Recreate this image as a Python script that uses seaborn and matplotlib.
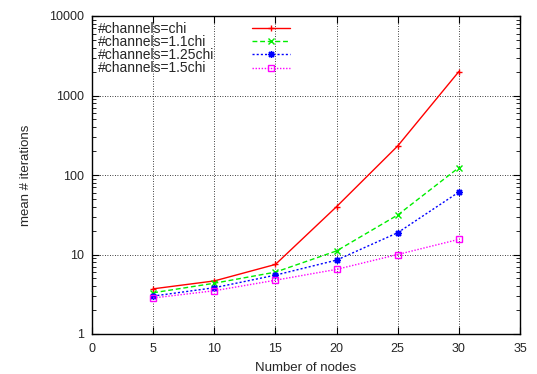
import matplotlib
matplotlib.use("Agg")
import matplotlib.pyplot as plt
import seaborn as sns
import pandas as pd
from matplotlib.ticker import LogLocator, NullFormatter, FixedLocator
from matplotlib.lines import Line2D

nodes = [5, 10, 15, 20, 25, 30]
chi = [3.7, 4.65, 7.5, 40, 232, 2000]
chi_1_1 = [3.3, 4.35, 6.0, 11.1, 31.4, 124]
chi_1_25 = [3.0, 3.82, 5.5, 8.5, 18.8, 61]
chi_1_5 = [2.84, 3.5, 4.75, 6.5, 10.0, 15.5]
labels = ["#channels=chi", "#channels=1.1chi", "#channels=1.25chi", "#channels=1.5chi"]

sns.set_style("ticks")
plt.rcParams['font.family'] = ['Liberation Sans', 'DejaVu Sans']
FS_TICK = 9
FS_LAB = 9.5
FS_LEG = 10

fig = plt.figure(figsize=(5.37, 3.74), dpi=100)
ax = fig.add_axes([92/537, 1-334/374, (520-92)/537, (334-16)/374])

series = [chi, chi_1_1, chi_1_25, chi_1_5]
colors = ["#ff0000", "#00ee00", "#0000ff", "#ff00ff"]
markers = ["+", "x", (8, 2, 0), "s"]
dashes = [None, (3.5, 2), (1.5, 1.5), (1, 1.2)]
handles = []
for vals, lab, c, m, d in zip(series, labels, colors, markers, dashes):
    df = pd.DataFrame({"nodes": nodes, "iters": vals})
    kw = dict(marker=m, markersize=5 if m != "s" else 4.5, markeredgewidth=1.0,
              linewidth=1.0, color=c, markeredgecolor=c, label=lab)
    if m == "s":
        kw["markerfacecolor"] = "none"
    sns.lineplot(data=df, x="nodes", y="iters", ax=ax, **kw)
    ln = ax.lines[-1]
    if d is not None:
        ln.set_dashes(d)
    handles.append(ln)

ax.set_yscale("log")
ax.set_xlim(0, 35)
ax.set_ylim(1, 10000)
ax.xaxis.set_major_locator(FixedLocator([0, 5, 10, 15, 20, 25, 30, 35]))
ax.yaxis.set_minor_locator(LogLocator(base=10, subs=range(2, 10), numticks=10))
ax.yaxis.set_minor_formatter(NullFormatter())
ax.set_yticks([1, 10, 100, 1000, 10000])
ax.set_yticklabels(["1", "10", "100", "1000", "10000"])
ax.grid(True, which="major", linestyle=(0, (1, 2)), color="black", linewidth=0.6)
ax.tick_params(which="both", direction="in", top=True, right=True, labelsize=FS_TICK, color="black")
ax.tick_params(axis="x", which="major", pad=6.5)
ax.tick_params(axis="y", which="major", pad=6)
ax.tick_params(which="major", length=5, width=0.8)
ax.tick_params(which="minor", length=3, width=0.6)
for s in ax.spines.values():
    s.set_linewidth(1.0)
    s.set_color("black")
ax.set_xlabel("Number of nodes", fontsize=FS_LAB, labelpad=5)
ax.set_ylabel("mean # iterations", fontsize=FS_LAB, labelpad=12)

# legend: texts left-aligned, samples in a column to the right
blank = [Line2D([], [], color="none") for _ in labels]
leg_text = ax.legend(blank, labels, loc="upper left", frameon=False, fontsize=FS_LEG,
                     handlelength=0, handletextpad=0, labelspacing=-0.06,
                     borderpad=0, borderaxespad=0,
                     bbox_to_anchor=(98/537, 1-22/374), bbox_transform=fig.transFigure)
ax.add_artist(leg_text)
ax.legend(handles, [" "] * 4, loc="upper left", frameon=False, fontsize=FS_LEG,
          handlelength=2.7, handletextpad=0, labelspacing=-0.06,
          borderpad=0, borderaxespad=0,
          bbox_to_anchor=(252/537, 1-22/374), bbox_transform=fig.transFigure)
fig.savefig("out.png", dpi=100)
